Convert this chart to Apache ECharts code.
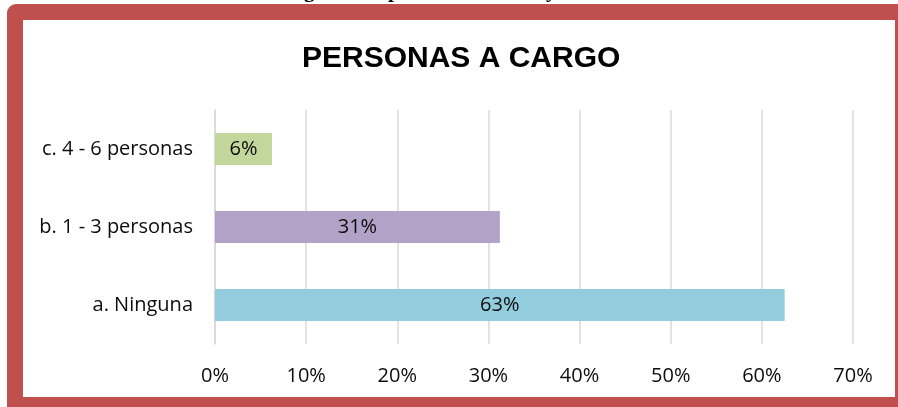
<!DOCTYPE html>
<html>
<head>
<meta charset="utf-8">
<script src="https://cdn.jsdelivr.net/npm/echarts@6/dist/echarts.min.js"></script>
<style>
html,body{margin:0;padding:0;background:#fff;}
#chart{width:898px;height:407px;}
</style>
</head>
<body>
<div id="chart"></div>
<script>
const categories = ['a. Ninguna', 'b. 1 - 3 personas', 'c. 4 - 6 personas'];
const values = [62.5, 31.25, 6.25];
const barColors = ['#93CDDD', '#B3A2C7', '#C3D69B'];
const tickLabels = ['0%', '10%', '20%', '30%', '40%', '50%', '60%', '70%'];
const titleText = 'PERSONAS A CARGO';

const chart = echarts.init(document.getElementById('chart'), null, {renderer: 'canvas'});
const option = {
  animation: false,
  backgroundColor: '#ffffff',
  graphic: [
    {type: 'rect', z: -10, shape: {x: 7, y: 4, width: 900, height: 410, r: [9, 0, 0, 0]}, style: {fill: '#C0504D'}},
    {type: 'rect', z: -9, shape: {x: 23, y: 20, width: 872, height: 377}, style: {fill: '#ffffff'}},
    {type: 'text', z: -11, left: 304, top: -19, style: {text: 'g', font: 'bold 21px "Liberation Serif"', fill: '#000'}},
    {type: 'text', z: -11, left: 388, top: -19, style: {text: 'p', font: 'bold 21px "Liberation Serif"', fill: '#000'}},
    {type: 'text', z: -11, left: 546, top: -19, style: {text: 'y', font: 'bold 21px "Liberation Serif"', fill: '#000'}}
  ],
  title: {
    text: titleText,
    left: 297,
    top: 39,
    textStyle: {fontFamily: 'Liberation Sans', fontWeight: 'bold', fontSize: 30, color: '#000'}
  },
  grid: {left: 215, right: 45, top: 110, bottom: 63, containLabel: false},
  xAxis: {
    type: 'value',
    min: 0,
    max: 70,
    interval: 10,
    axisLine: {show: false},
    axisTick: {show: false},
    splitLine: {show: true, lineStyle: {color: '#D9D9D9', width: 1.5}},
    axisLabel: {
      margin: 22,
      fontFamily: 'Open Sans',
      fontSize: 20,
      color: '#0d0d0d',
      formatter: function (v) { return tickLabels[Math.round(v / 10)]; }
    }
  },
  yAxis: {
    type: 'category',
    data: categories,
    axisLine: {show: true, lineStyle: {color: '#D9D9D9', width: 1.5}},
    axisTick: {show: false},
    axisLabel: {margin: 22, fontFamily: 'Open Sans', fontSize: 20, color: '#0d0d0d'}
  },
  series: [{
    type: 'bar',
    barWidth: 32,
    data: values.map((v, i) => ({value: v, itemStyle: {color: barColors[i]}})),
    label: {
      show: true,
      position: 'inside',
      fontFamily: 'Open Sans',
      fontSize: 20,
      color: '#0d0d0d',
      formatter: function (p) { return Math.round(p.value) + '%'; }
    }
  }]
};
chart.setOption(option);
</script>
</body>
</html>
